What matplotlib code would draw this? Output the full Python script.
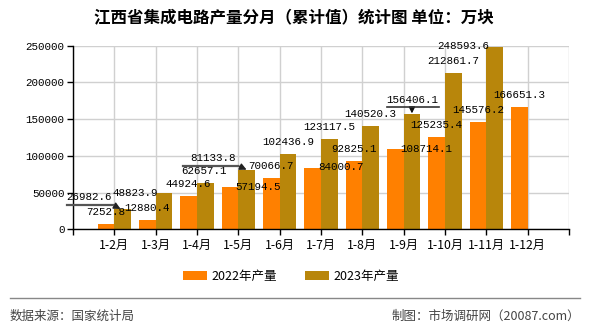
import matplotlib
matplotlib.use("Agg")
import matplotlib.pyplot as plt
import numpy as np

plt.rcParams['font.family'] = ['Noto Sans CJK SC', 'DejaVu Sans']

# ---------------- data ----------------
categories = ["1-2月", "1-3月", "1-4月", "1-5月", "1-6月", "1-7月",
              "1-8月", "1-9月", "1-10月", "1-11月", "1-12月"]
values_2022 = [7252.8, 12880.4, 44924.6, 57194.5, 70066.7, 84000.7,
               92825.1, 108714.1, 125235.4, 145576.2, 166651.3]
values_2023 = [26982.6, 48823.9, 62657.1, 81133.8, 102436.9, 123117.5,
               140520.3, 156406.1, 212861.7, 248593.6]
series_names = ["2022年产量", "2023年产量"]
yticks = [0, 50000, 100000, 150000, 200000, 250000]
title = "江西省集成电路产量分月（累计值）统计图 单位：万块"
source_text = "数据来源：国家统计局"
credit_text = "制图：市场调研网（20087.com）"

# ---------------- style / placement ----------------
c2022 = "#FF8000"
c2023 = "#B8860B"
bar_w = 0.4
num_font = "Liberation Mono"
num_size = 7.8
# label offsets in pixels (dx, dy) from bar top-centre
off_2022 = [(0, 12), (0, 12), (0, 12), (28, 0.5), (0, 12), (28, 0.5),
            (0, 12), (31, 0.5), (0, 12), (0, 12), (0, 12)]
off_2023 = [(-34, 12), (-29, 0), (-1, 12), (-34, 12), (0, 12), (0, 12),
            (0, 12.5), (0, 14.5), (0, 12), (-31, 1)]

fig = plt.figure(figsize=(5.9, 3.3), dpi=100)
ax = fig.add_axes([73/590, 1-229.3/330, (569-73)/590, (229.3-45.7)/330])

x = np.arange(len(categories))
x23 = np.arange(len(values_2023))
ax.bar(x - bar_w/2, values_2022, width=bar_w, color=c2022, zorder=3,
       label=series_names[0])
ax.bar(x23 + bar_w/2, values_2023, width=bar_w, color=c2023, zorder=3,
       label=series_names[1])

ax.set_xlim(-1, len(categories))
ax.set_ylim(0, yticks[-1])
ax.set_yticks(yticks)
ax.set_yticklabels([str(v) for v in yticks], fontfamily=num_font,
                   fontsize=num_size)
ax.set_xticks(np.arange(-1, len(categories) + 1))
ax.set_xticklabels([""] + categories + [""], fontsize=8.8)
ax.tick_params(axis='x', length=4, width=1, direction='out', pad=3)
ax.tick_params(axis='y', length=4, width=1, direction='out', pad=2)
ax.grid(True, color="#d0d0d0", lw=1, zorder=0)
for s in ["top", "right"]:
    ax.spines[s].set_visible(False)
for s in ["left", "bottom"]:
    ax.spines[s].set_color("black")
    ax.spines[s].set_linewidth(1)
    ax.spines[s].set_zorder(4)

# value labels
for i, v in enumerate(values_2022):
    dx, dy = off_2022[i]
    ax.annotate(f"{v:.1f}", xy=(i - bar_w/2, v), xytext=(dx, dy),
                textcoords="offset pixels", ha="center", va="center",
                fontfamily=num_font, fontsize=num_size, zorder=6)
for i, v in enumerate(values_2023):
    dx, dy = off_2023[i]
    ax.annotate(f"{v:.1f}", xy=(i + bar_w/2, v), xytext=(dx, dy),
                textcoords="offset pixels", ha="center", va="center",
                fontfamily=num_font, fontsize=num_size, zorder=6)

# leader lines with arrows (pixel offsets from 2023 bar tops)
leaders = {0: [(-56, 4.8), (-10, 4.8), (-2, 0.5)],
           3: [(-63.5, 4), (-8.5, 4), (0, 0)]}
for i, pts in leaders.items():
    bx, by = ax.transData.transform((i + bar_w/2, values_2023[i]))
    p = [(bx + dx, by + dy) for dx, dy in pts]
    fig.lines.append(plt.Line2D([p[0][0], p[1][0]], [p[0][1], p[1][1]],
                                transform=None, color="#555555", lw=1.6))
    ax.annotate("", xy=p[2], xytext=p[1], xycoords="figure pixels",
                textcoords="figure pixels",
                arrowprops=dict(arrowstyle="-|>", color="#222222", lw=1,
                                mutation_scale=10, shrinkA=0, shrinkB=0),
                zorder=7)
# bracket line above 1-9月
bx, by = ax.transData.transform((7 + bar_w/2, values_2023[7]))
fig.lines.append(plt.Line2D([bx - 25, bx + 27], [by + 7.7, by + 7.7],
                            transform=None, color="#333333", lw=1.2))
ax.annotate("", xy=(bx, by + 1), xytext=(bx, by + 7.7),
            xycoords="figure pixels", textcoords="figure pixels",
            arrowprops=dict(arrowstyle="-|>", color="#111111", lw=1,
                            mutation_scale=9, shrinkA=0, shrinkB=0))

# title
fig.text(294/590, 1-17/330, title, ha="center", va="center",
         fontsize=11.9, fontweight="bold")

# legend
leg = fig.legend(loc="center", bbox_to_anchor=(291/590, 1-276.5/330),
                 ncol=2, frameon=False, fontsize=9, handlelength=1.9,
                 handleheight=0.7, columnspacing=2.2, handletextpad=0.4)

# footer
fig.lines.append(plt.Line2D([10/590, 580/590], [1-297.5/330, 1-297.5/330],
                            transform=fig.transFigure, color="#888888",
                            lw=1))
fig.text(10/590, 1-316/330, source_text, ha="left", va="center",
         fontsize=9, color="#444444")
fig.text(580/590, 1-316/330, credit_text, ha="right", va="center",
         fontsize=9, color="#444444")

fig.savefig("out.png", dpi=100)
